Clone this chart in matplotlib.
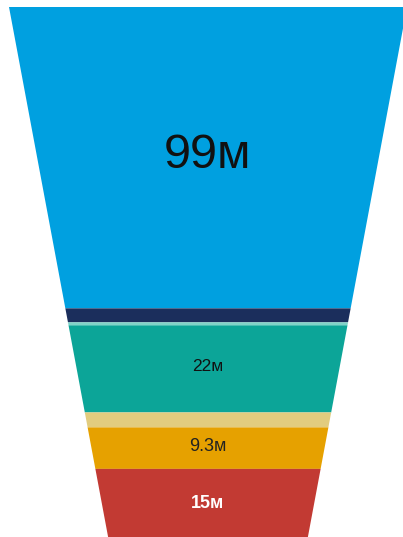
import numpy as np
import matplotlib
matplotlib.use('Agg')  # Non-interactive backend
import matplotlib.pyplot as plt

# Funnel segments, top to bottom (values in millions; area-proportional)
values = [99, 3.8, 0.8, 22, 3.5, 9.3, 15]
labels = ["99м", "", "", "22м", "", "9.3м", "15м"]
colors = ["#00A0E0", "#1B2E5C", "#7FD3C8", "#0CA598", "#E2CC7E", "#E6A100", "#C23A33"]
label_colors = ["#111111", None, None, "#111111", None, "#222222", "#FFFFFF"]
label_sizes = [35, 0, 0, 12.5, 0, 13, 13]
label_weights = ["normal", None, None, "normal", None, "normal", "bold"]

# Funnel geometry (pixel-like units)
TOP = 7.0
CX = 208.0
HALF_W = 199.0
SLOPE = 0.187
AREA_PER_M = 1040.0


def depth_for_area(a):
    """Depth below the top at which the enclosed funnel area equals a."""
    return (HALF_W - np.sqrt(HALF_W ** 2 - SLOPE * a)) / SLOPE


def half_width(d):
    return HALF_W - SLOPE * d


fig = plt.figure(figsize=(4.03, 5.37), dpi=100)
ax = fig.add_axes([0, 0, 1, 1])
ax.set_xlim(0, 403)
ax.set_ylim(537, 0)
ax.axis('off')

cum = np.concatenate([[0], np.cumsum(values)]) * AREA_PER_M
depths = [depth_for_area(a) for a in cum]

for i, v in enumerate(values):
    d0, d1 = depths[i], depths[i + 1]
    w0, w1 = half_width(d0), half_width(d1)
    xs = [CX - w0, CX + w0, CX + w1, CX - w1]
    ys = [TOP + d0, TOP + d0, TOP + d1, TOP + d1]
    ax.fill(xs, ys, color=colors[i], linewidth=0)
    if labels[i]:
        ax.text(CX, TOP + (d0 + d1) / 2 - 2, labels[i], ha='center', va='center',
                fontsize=label_sizes[i], color=label_colors[i],
                fontweight=label_weights[i], family='Liberation Sans')

fig.savefig("out.png", dpi=100)
